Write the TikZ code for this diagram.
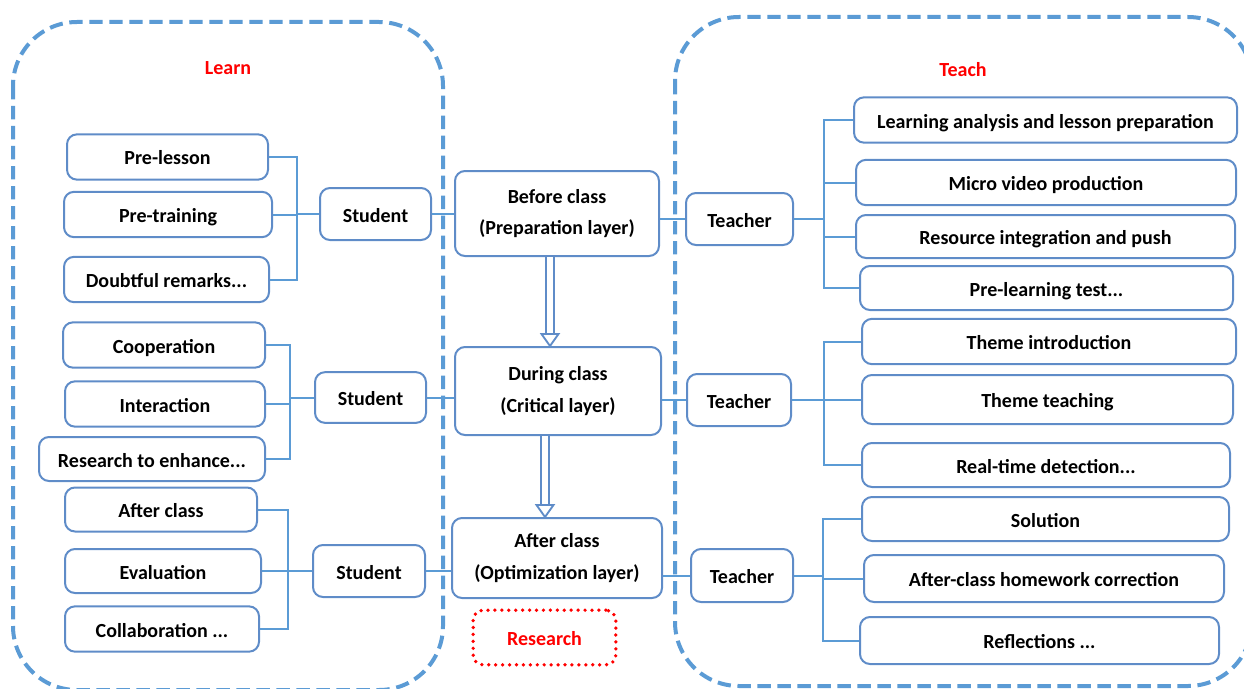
\documentclass[tikz,border=0pt]{standalone}
\usepackage{fontspec}
\setmainfont{Carlito}
\usetikzlibrary{arrows.meta}
\definecolor{boxblue}{RGB}{95,140,200}
\definecolor{dashblue}{RGB}{91,155,213}
\tikzset{every picture/.style={line width=0.75pt}}
\tikzset{
	base/.style={draw=boxblue, line width=1.5pt, rounded corners=7.5pt, fill=white, minimum height=34pt, inner sep=2pt, font=\fontsize{15}{23.5}\selectfont\bfseries, align=center},
	box/.style={base, text height=15pt, text depth=3pt},
	layer/.style={base},
	link/.style={draw=dashblue, line width=1.5pt},
	zone/.style={draw=dashblue, line width=3pt, dash pattern=on 10pt off 5pt, rounded corners=48pt},
	flow/.style={draw=boxblue, double=white, double distance=5pt, line width=1.4pt, shorten >=8pt},
	flowhead/.style={draw=boxblue, fill=white, line width=1.4pt, line join=miter},
	title/.style={text=red, font=\fontsize{15}{18}\selectfont\bfseries}}

\begin{document}
\begin{tikzpicture}[x=0.75pt,y=0.75pt,yscale=-1,xscale=1]
	\clip (0,0) rectangle (1244,688); %set diagram to 1244 x 688

	%Shape: Rounded Rect [id:learnzone] 
	\draw[zone] (13,22) rectangle (443,690);
	%Shape: Rounded Rect [id:teachzone] 
	\draw[zone] (675,17) rectangle (1252,686);

	% Text Node
	\node[title] (learn) at (228,68) {Learn};
	% Text Node
	\node[title] (teach) at (963,70) {Teach};

	% Learn side
	\node[box, minimum width=150.75pt] (prelesson) at (167.5,157) {Pre-lesson};
	\node[box, minimum width=156pt] (pretraining) at (168,214.5) {Pre-training};
	\node[box, minimum width=153.75pt] (doubtful) at (166.5,279.5) {Doubtful remarks...};
	\node[box, minimum width=151.5pt] (cooperation) at (164,345) {Cooperation};
	\node[box, minimum width=150pt] (interaction) at (165,404) {Interaction};
	\node[box, minimum width=169.5pt, minimum height=33pt] (enhance) at (152,459) {Research to enhance...};
	\node[box, minimum width=144pt, minimum height=33pt] (afterL) at (161,509.5) {After class};
	\node[box, minimum width=147pt, minimum height=33pt] (evaluation) at (163,571) {Evaluation};
	\node[box, minimum width=145.5pt] (collab) at (162,629) {Collaboration ...};

	\node[box, minimum width=83.25pt, minimum height=39pt] (student1) at (375.5,214) {Student};
	\node[box, minimum width=83.25pt, minimum height=38pt] (student2) at (370.5,397.5) {Student};
	\node[box, minimum width=84pt, minimum height=39pt] (student3) at (369,571) {Student};

	% Middle layers
	\node[layer, minimum width=153pt, minimum height=63.75pt] (before) at (557,213.5) {Before class\\(Preparation layer)};
	\node[layer, minimum width=154.5pt, minimum height=66pt] (during) at (558,391) {During class\\(Critical layer)};
	\node[layer, minimum width=157.5pt, minimum height=60pt] (after) at (557,558) {After class\\(Optimization layer)};
	\node[box, draw=red, text=red, line width=2.8pt, dash pattern=on 0pt off 5.2pt, line cap=round, minimum width=107pt, minimum height=41pt] (research) at (544.5,637.5) {Research};

	% Teach side
	\node[box, minimum width=80.25pt, minimum height=39pt] (teacher1) at (739.5,219) {Teacher};
	\node[box, minimum width=78pt, minimum height=39pt] (teacher2) at (739,400) {Teacher};
	\node[box, minimum width=76.5pt, minimum height=39.75pt] (teacher3) at (742,575.5) {Teacher};

	\node[box, minimum width=287.25pt] (analysis) at (1045.5,120) {Learning analysis and lesson preparation};
	\node[box, minimum width=285pt] (video) at (1046,182.5) {Micro video production};
	\node[box, minimum width=284.25pt, minimum height=32.25pt] (resource) at (1045.5,236.5) {Resource integration and push};
	\node[box, minimum width=279.75pt, minimum height=33pt] (pretest) at (1046.5,288) {Pre-learning test...};
	\node[box, minimum width=280.5pt] (themeintro) at (1049,341.5) {Theme introduction};
	\node[box, minimum width=278.25pt, minimum height=36.75pt] (themeteach) at (1047.5,399.5) {Theme teaching};
	\node[box, minimum width=276pt, minimum height=33pt] (realtime) at (1046,465) {Real-time detection...};
	\node[box, minimum width=275.25pt, minimum height=33pt] (solution) at (1045.5,519) {Solution};
	\node[box, minimum width=270pt, minimum height=35.25pt] (homework) at (1044,578.5) {After-class homework correction};
	\node[box, minimum width=269.25pt, minimum height=35.25pt] (reflect) at (1039.5,640.5) {Reflections ...};

	% bracket joints
	\coordinate (js1) at (297,214);
	\coordinate (js2) at (290,397.5);
	\coordinate (js3) at (288,571);
	\coordinate (jt1) at (824,219);
	\coordinate (jt2) at (824,400);
	\coordinate (jt3) at (823,575.5);

	%Straight Lines [id:learn brackets] 
	\draw[link] (prelesson.east) -| (js1) |- (doubtful.east);
	\draw[link] (pretraining.east -| js1) -- (pretraining.east);
	\draw[link] (js1) -- (student1.west);
	\draw[link] (cooperation.east) -| (js2) |- (enhance.east);
	\draw[link] (interaction.east) -- (interaction.east -| js2);
	\draw[link] (js2) -- (student2.west);
	\draw[link] (afterL.east) -| (js3) |- (collab.east);
	\draw[link] (evaluation.east) -- (evaluation.east -| js3);
	\draw[link] (js3) -- (student3.west);

	%Straight Lines [id:to layers] 
	\draw[link] (student1.east) -- (student1.east -| before.west);
	\draw[link] (student2.east) -- (student2.east -| during.west);
	\draw[link] (student3.east) -- (student3.east -| after.west);
	\draw[link] (teacher1.west -| before.east) -- (teacher1.west);
	\draw[link] (teacher2.west -| during.east) -- (teacher2.west);
	\draw[link] (teacher3.west -| after.east) -- (teacher3.west);

	%Straight Lines [id:teach brackets] 
	\draw[link] (teacher1.east) -- (jt1);
	\draw[link] (analysis.west) -| (jt1) |- (pretest.west);
	\draw[link] (jt1 |- video.west) -- (video.west);
	\draw[link] (jt1 |- resource.west) -- (resource.west);
	\draw[link] (teacher2.east) -- (jt2);
	\draw[link] (themeintro.west) -| (jt2) |- (realtime.west);
	\draw[link] (jt2 |- themeteach.west) -- (themeteach.west);
	\draw[link] (teacher3.east) -- (jt3);
	\draw[link] (solution.west) -| (jt3) |- (reflect.west);
	\draw[link] (jt3 |- homework.west) -- (homework.west);

	%Double Arrows [id:flow] 
	\coordinate (f1) at ([xshift=-5.25pt]before.south |- during.north);
	\coordinate (f2) at ([xshift=-9.75pt]during.south |- after.north);
	\draw[flow] ([xshift=-5.25pt]before.south) -- (f1);
	\draw[flowhead] (f1) -- ++(-8.5,-12) -- ++(17,0) -- cycle;
	\draw[flow] ([xshift=-9.75pt]during.south) -- (f2);
	\draw[flowhead] (f2) -- ++(-8.5,-12) -- ++(17,0) -- cycle;

\end{tikzpicture}
\end{document}
